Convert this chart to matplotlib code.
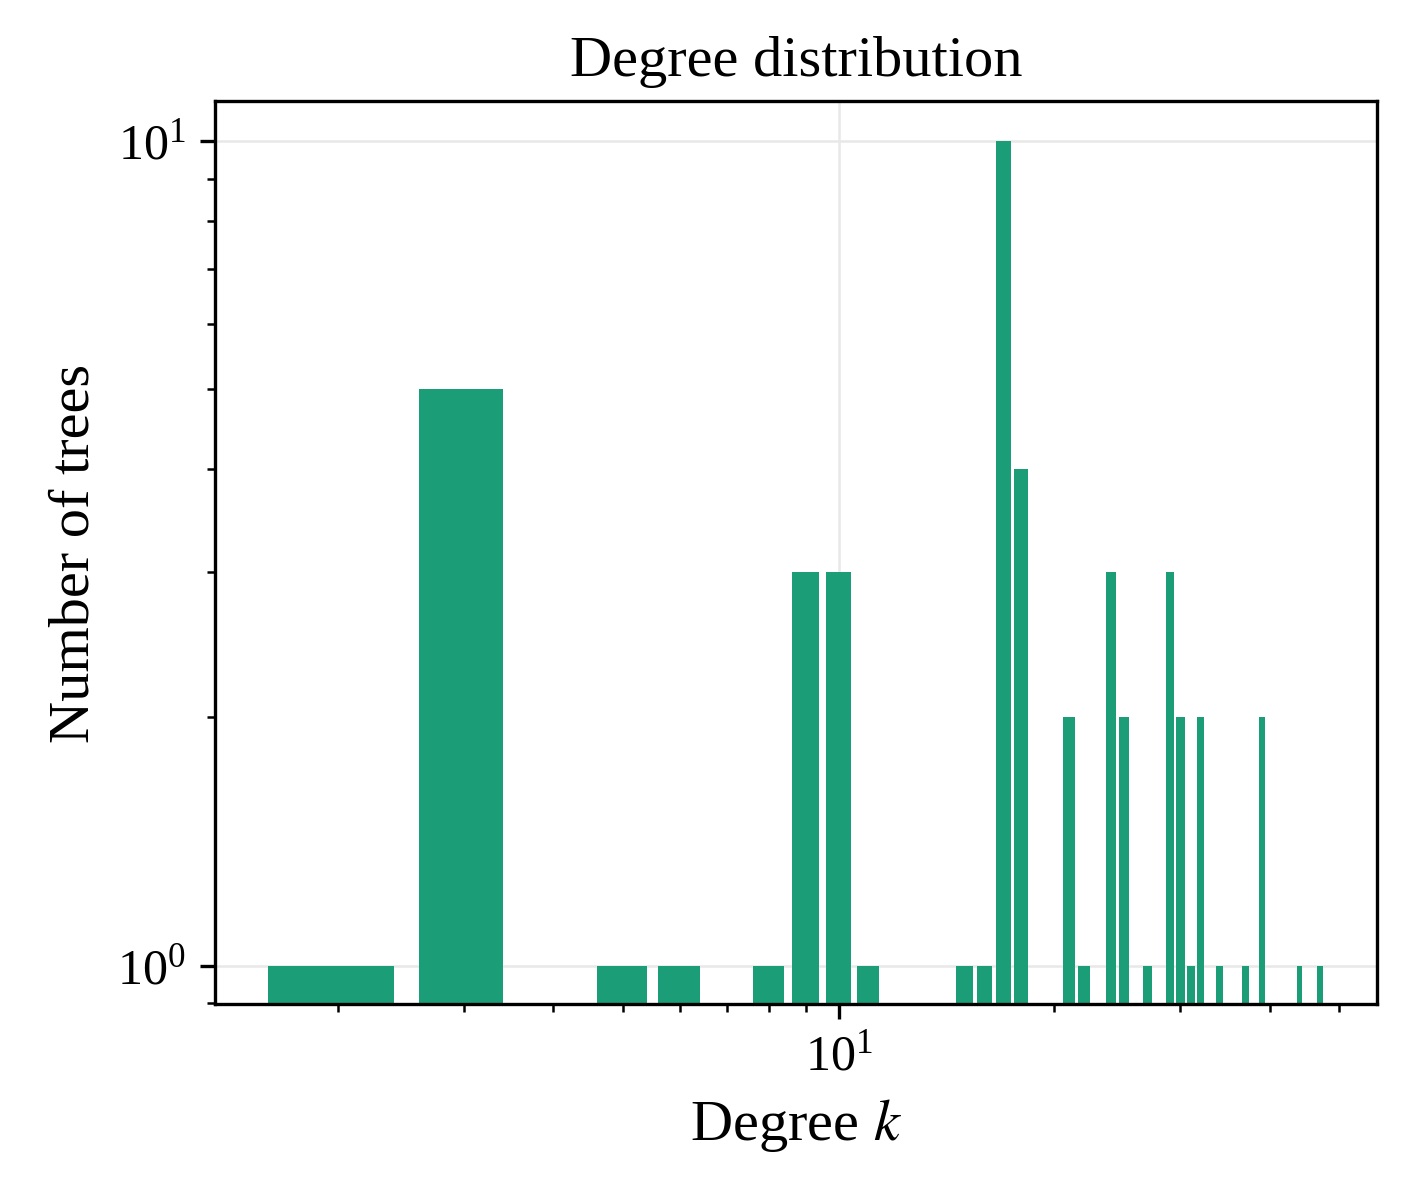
import matplotlib
matplotlib.use("Agg")
import matplotlib.pyplot as plt

degrees = [2, 3, 5, 6, 8, 9, 10, 11, 15, 16, 17, 18, 21, 22, 24, 25, 27,
           29, 30, 31, 32, 34, 37, 39, 44, 47]
counts = [1, 5, 1, 1, 1, 3, 3, 1, 1, 1, 10, 4, 2, 1, 3, 2, 1,
          3, 2, 1, 2, 1, 1, 2, 1, 1]

plt.rcParams['font.family'] = ['Liberation Serif', 'DejaVu Serif']
plt.rcParams['mathtext.fontset'] = 'stix'

fig, ax = plt.subplots(figsize=(4.69, 3.977), dpi=300)
ax.bar(degrees, counts, width=0.8, color='#1b9e77', zorder=2)
ax.set_xscale('log')
ax.set_yscale('log')
ax.set_xlim(1.35, 56.5)
ax.set_ylim(0.897, 11.18)
ax.grid(True, color='#e8e8e8', linewidth=0.6, zorder=0)
ax.set_title('Degree distribution', fontsize=14)
ax.set_xlabel('Degree $k$', fontsize=14)
ax.set_ylabel('Number of trees', fontsize=14)
ax.tick_params(labelsize=12)
fig.subplots_adjust(left=0.153, right=0.979, bottom=0.158, top=0.915)
fig.savefig('out.png', dpi=300)
